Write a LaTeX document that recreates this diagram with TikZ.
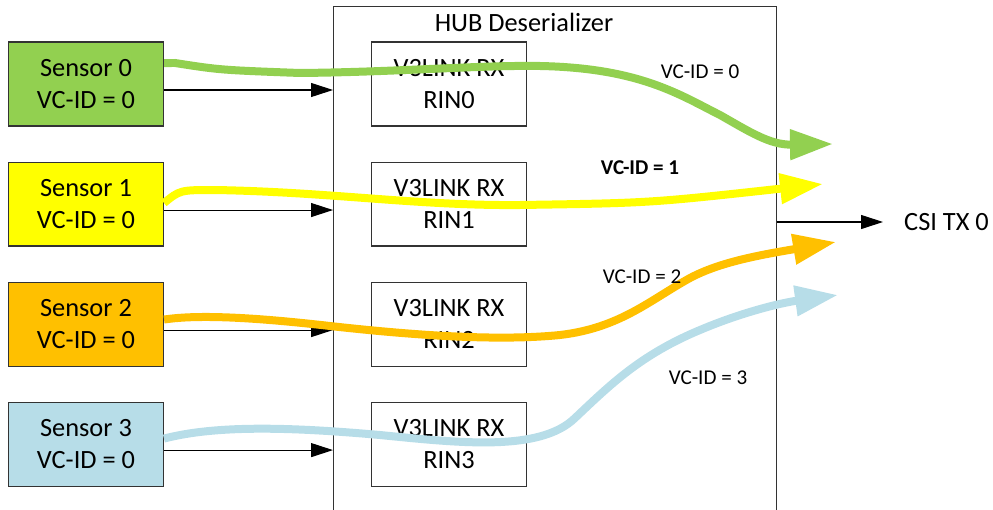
\documentclass[tikz,border=0pt]{standalone}
\usepackage{fontspec}
\setmainfont{Carlito}
\usepackage{xcolor}
\usetikzlibrary{arrows.meta,positioning,calc}

\definecolor{sgreen}{HTML}{92D050}
\definecolor{syellow}{HTML}{FFFF00}
\definecolor{sorange}{HTML}{FFC000}
\definecolor{sblue}{HTML}{B7DDE8}

\begin{document}
\begin{tikzpicture}[
    x=0.02cm, y=-0.02cm,
    node distance=0.7cm,
    sensorbox/.style={rectangle, draw=black!80, line width=0.6pt, minimum width=3.1cm, minimum height=1.68cm, align=center, font=\fontsize{15}{18}\selectfont},
    rxbox/.style={rectangle, draw=black!80, line width=0.6pt, fill=white, minimum width=3.1cm, minimum height=1.68cm, align=center, font=\fontsize{15}{18}\selectfont},
    hubbox/.style={rectangle, draw=black!80, line width=0.6pt, minimum width=8.86cm, minimum height=11cm, anchor=north west},
    arrow/.style={-{Triangle[length=0.44cm, width=0.28cm]}, line width=0.6pt},
    flow/.style={-{Triangle[length=0.86cm, width=0.58cm]}, line width=0.16cm},
    vclabel/.style={font=\fontsize{12}{14}\selectfont}
]
    \clip (0,0) rectangle (993,510);
    \useasboundingbox (0,0) rectangle (993,510);

    % Hub deserializer
    \node[hubbox] (hub) at (333,6) {};
    \node[font=\fontsize{15}{18}\selectfont] (title) at (524,22) {HUB Deserializer};

    % Sensor boxes
    \node[sensorbox, fill=sgreen] (s0) at (86,84) {Sensor 0\\VC-ID = 0};
    \node[sensorbox, fill=syellow, below=of s0] (s1) {Sensor 1\\VC-ID = 0};
    \node[sensorbox, fill=sorange, below=of s1] (s2) {Sensor 2\\VC-ID = 0};
    \node[sensorbox, fill=sblue, below=of s2] (s3) {Sensor 3\\VC-ID = 0};

    % Receiver boxes
    \foreach \i in {0,...,3}
        \node[rxbox, right=4.14cm of s\i] (rx\i) {V3LINK RX\\RIN\i};

    % Sensor links
    \foreach \i in {0,...,3}
        \draw[arrow] ([yshift=-0.12cm]s\i.east) -- ([yshift=-0.12cm]s\i.east -| hub.west);

    % Output
    \node[anchor=west, font=\fontsize{15}{18}\selectfont] (csi) at (898,222) {CSI TX 0};
    \draw[arrow] (csi.west -| hub.east) -- ([xshift=-0.3cm]csi.west);

    % Virtual channel flows
    \coordinate (g0end) at (833,144);
    \coordinate (g1end) at (823,184);
    \coordinate (g2end) at (836,242);
    \coordinate (g3end) at (838,295);
    \draw[flow, sgreen] ([yshift=0.42cm]s0.east) -- (175,63)
        .. controls (220,70) .. (300,73)
        .. controls (400,72) and (480,65) .. (540,66)
        .. controls (640,68) and (680,95) .. (720,115)
        .. controls (750,132) and (770,145) .. (g0end);
    \draw[flow, syellow] ([yshift=0.02cm]s1.east)
        .. controls (180,190) .. (215,190)
        .. controls (330,192) and (420,206) .. (520,205)
        .. controls (650,203) .. (g1end);
    \draw[flow, sorange] ([yshift=0.09cm]s2.east)
        .. controls (200,314) and (260,318) .. (330,326)
        .. controls (420,336) and (500,341) .. (560,335)
        .. controls (620,328) and (650,300) .. (690,278)
        .. controls (720,262) and (760,255) .. (g2end);
    \draw[flow, sblue] ([yshift=0.11cm]s3.east)
        .. controls (220,424) and (300,428) .. (380,435)
        .. controls (460,443) and (540,452) .. (575,418)
        .. controls (610,385) and (640,355) .. (700,330)
        .. controls (740,313) and (780,303) .. (g3end);

    % Labels
    \node[vclabel] (vc0) at (700,72) {VC-ID = 0};
    \node[vclabel, font=\fontsize{12}{14}\selectfont\bfseries] (vc1) at (640,168) {VC-ID = 1};
    \node[vclabel] (vc2) at (642,277) {VC-ID = 2};
    \node[vclabel] (vc3) at (708,378) {VC-ID = 3};
\end{tikzpicture}
\end{document}
